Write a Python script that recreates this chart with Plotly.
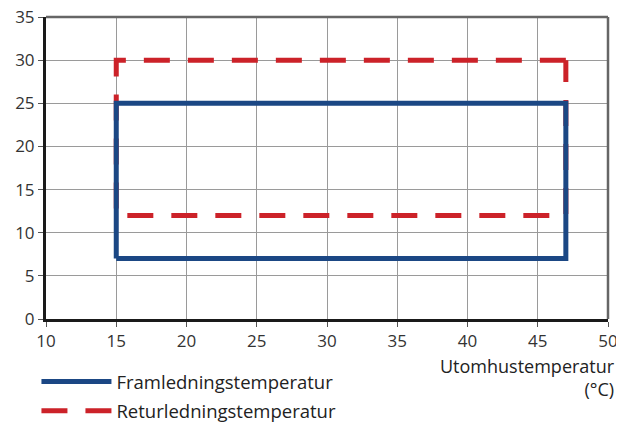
import plotly.graph_objects as go

# Data
series_names = ["Framledningstemperatur", "Returledningstemperatur"]
fram_x = [15, 47, 47, 15, 15]
fram_y = [7, 7, 25, 25, 7]
retur_x = [47, 15, 15, 47, 47]
retur_y = [30, 30, 12, 12, 30]
x_ticks = [10, 15, 20, 25, 30, 35, 40, 45, 50]
y_ticks = [0, 5, 10, 15, 20, 25, 30, 35]
x_title = "Utomhustemperatur<br>(°C)"

blue = "#1B4784"
red = "#CC2229"
font_family = "Open Sans, sans-serif"

fig = go.Figure()
fig.add_trace(go.Scatter(
    x=retur_x, y=retur_y, mode="lines", name=series_names[1], legendrank=2,
    legendgroup="retur",
    line=dict(color=red, width=5, dash="26px,18px"),
))
fig.add_trace(go.Scatter(
    x=fram_x, y=fram_y, mode="lines", name=series_names[0], legendrank=1,
    legendgroup="fram",
    line=dict(color=blue, width=5),
))

# top/right grey frame
fig.add_shape(type="line", xref="paper", yref="paper", x0=0, x1=1, y0=1, y1=1,
              line=dict(color="#666666", width=2.5), layer="above")
fig.add_shape(type="line", xref="paper", yref="paper", x0=1, x1=1, y0=0, y1=1,
              line=dict(color="#666666", width=2.5), layer="above")

fig.add_annotation(
    text=x_title, xref="paper", yref="paper", x=1.014, y=-0.112,
    xanchor="right", yanchor="top", align="right", showarrow=False, borderpad=0,
    font=dict(size=18, color="#222222", family=font_family),
)

fig.update_xaxes(
    range=[10, 50], tickvals=x_ticks, showgrid=True, gridcolor="#9a9a9a", gridwidth=1,
    showline=True, linecolor="#1a1a1a", linewidth=3, ticks="outside", ticklen=5,
    tickcolor="#555555", tickfont=dict(size=17, color="#333333", family=font_family),
    zeroline=False, fixedrange=True, automargin=False, ticklabeloverflow="allow",
)
fig.update_yaxes(
    range=[0, 35], tickvals=y_ticks, showgrid=True, gridcolor="#9a9a9a", gridwidth=1,
    showline=True, linecolor="#1a1a1a", linewidth=3, ticks="outside", ticklen=5,
    tickcolor="#555555", tickfont=dict(size=17, color="#333333", family=font_family),
    zeroline=False, fixedrange=True, automargin=False, ticklabeloverflow="allow",
)

# page body has an 8px margin, so the figure is drawn 8px smaller and offset
fig.update_layout(
    width=616, height=416,
    margin=dict(l=38, r=16, t=9, b=105, autoexpand=False),
    plot_bgcolor="white", paper_bgcolor="white",
    font=dict(family=font_family, color="#222222"),
    legend=dict(
        x=-0.017, y=-0.146, xanchor="left", yanchor="top", orientation="v",
        font=dict(size=18.5, color="#222222", family=font_family),
        itemwidth=70, tracegroupgap=2,
        bgcolor="rgba(0,0,0,0)",
    ),
    showlegend=True,
)

fig.write_html("out.html")
